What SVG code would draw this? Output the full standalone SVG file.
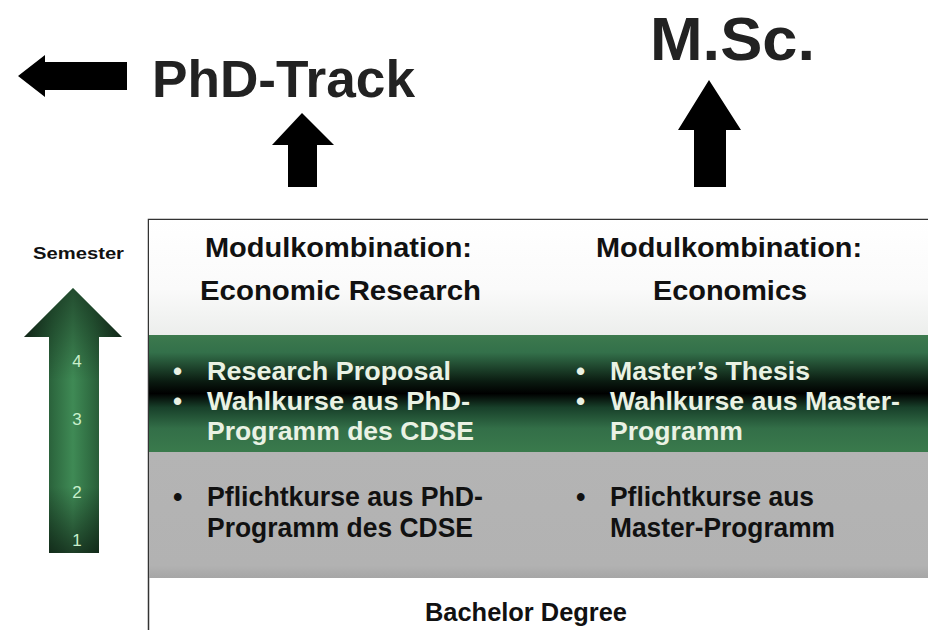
<svg xmlns="http://www.w3.org/2000/svg" width="928" height="630" viewBox="0 0 928 630">
<defs>
<linearGradient id="hdr" x1="0" y1="0" x2="0" y2="1">
<stop offset="0" stop-color="#ffffff"/><stop offset="0.6" stop-color="#fafafa"/><stop offset="1" stop-color="#eceeec"/>
</linearGradient>
<linearGradient id="band" x1="0" y1="0" x2="0" y2="1">
<stop offset="0" stop-color="#3c7a4e"/><stop offset="0.15" stop-color="#33704a"/><stop offset="0.4" stop-color="#0a1a10"/><stop offset="0.5" stop-color="#000000"/><stop offset="0.62" stop-color="#18402a"/><stop offset="0.8" stop-color="#336f48"/><stop offset="1" stop-color="#3a7a4c"/>
</linearGradient>
<linearGradient id="gray" x1="0" y1="0" x2="0" y2="1">
<stop offset="0" stop-color="#b4b4b4"/><stop offset="0.9" stop-color="#b2b2b2"/><stop offset="1" stop-color="#a6a6a6"/>
</linearGradient>
<linearGradient id="sem" x1="0" y1="0" x2="1" y2="0">
<stop offset="0" stop-color="#16301e"/><stop offset="0.3" stop-color="#2e6a40"/><stop offset="0.5" stop-color="#3f8a55"/><stop offset="0.7" stop-color="#2e6a40"/><stop offset="1" stop-color="#16301e"/>
</linearGradient>
<linearGradient id="semv" x1="0" y1="0" x2="0" y2="1">
<stop offset="0" stop-color="#000" stop-opacity="0.45"/><stop offset="0.35" stop-color="#000" stop-opacity="0"/><stop offset="0.75" stop-color="#000" stop-opacity="0"/><stop offset="1" stop-color="#000" stop-opacity="0.55"/>
</linearGradient>
<style>
.t{font-family:"Liberation Sans",Arial,sans-serif;font-weight:bold}
.hd{font-size:28px;fill:#111}
.lt{font-size:26px;fill:#eaf2e4}
.dk{font-size:27px;fill:#111}
.num{font-family:"Liberation Sans",Arial,sans-serif;font-size:17px;fill:#c8f0cc}
.blk{fill:#000}
</style>
</defs>

<g id="phd-track">
<path class="blk" d="M18,76 L45,55 L45,62 L127,62 L127,90 L45,90 L45,97 Z"/>
<text class="t" x="152" y="97" font-size="51" fill="#222" textLength="263" lengthAdjust="spacingAndGlyphs">PhD-Track</text>
</g>
<g id="msc">
<text class="t" x="650" y="60" font-size="62" fill="#222" textLength="165" lengthAdjust="spacingAndGlyphs">M.Sc.</text>
</g>

<g id="connectors">
<path class="blk" d="M302,113 L334,145 L317,145 L317,187 L288,187 L288,145 L272,145 Z"/>
<path class="blk" d="M709,80 L741,130 L726,130 L726,187 L694,187 L694,130 L678,130 Z"/>
</g>

<g id="semester">
<text class="t" x="33" y="259" font-size="17" fill="#111" textLength="91" lengthAdjust="spacingAndGlyphs">Semester</text>
<path d="M73,288 L122,337 L99,337 L99,553 L49,553 L49,337 L24,337 Z" fill="url(#sem)"/>
<path d="M73,288 L122,337 L99,337 L99,553 L49,553 L49,337 L24,337 Z" fill="url(#semv)"/>
<text class="num" x="77" y="367" text-anchor="middle">4</text>
<text class="num" x="77" y="425" text-anchor="middle">3</text>
<text class="num" x="77" y="498" text-anchor="middle">2</text>
<text class="num" x="77" y="546" text-anchor="middle">1</text>
</g>

<g id="table">
<rect x="148.5" y="219.5" width="790" height="420" fill="#fff" stroke="#333" stroke-width="1.5"/>
<rect x="149" y="220" width="779" height="115" fill="url(#hdr)"/>
<rect x="149" y="335" width="779" height="117" fill="url(#band)"/>
<rect x="149" y="452" width="779" height="126" fill="url(#gray)"/>
</g>

<g id="header">
<text class="t hd" x="205" y="257" textLength="267" lengthAdjust="spacingAndGlyphs">Modulkombination:</text>
<text class="t hd" x="200" y="300" textLength="281" lengthAdjust="spacingAndGlyphs">Economic Research</text>
<text class="t hd" x="596" y="257" textLength="266" lengthAdjust="spacingAndGlyphs">Modulkombination:</text>
<text class="t hd" x="653" y="300" textLength="154" lengthAdjust="spacingAndGlyphs">Economics</text>
</g>

<g id="band-green">
<text class="t lt" x="173" y="380">•</text>
<text class="t lt" x="207" y="380" textLength="244" lengthAdjust="spacingAndGlyphs">Research Proposal</text>
<text class="t lt" x="173" y="410">•</text>
<text class="t lt" x="207" y="410" textLength="263" lengthAdjust="spacingAndGlyphs">Wahlkurse aus PhD-</text>
<text class="t lt" x="207" y="440" textLength="267" lengthAdjust="spacingAndGlyphs">Programm des CDSE</text>
<text class="t lt" x="576" y="380">•</text>
<text class="t lt" x="610" y="380" textLength="200" lengthAdjust="spacingAndGlyphs">Master’s Thesis</text>
<text class="t lt" x="576" y="410">•</text>
<text class="t lt" x="610" y="410" textLength="290" lengthAdjust="spacingAndGlyphs">Wahlkurse aus Master-</text>
<text class="t lt" x="610" y="440" textLength="133" lengthAdjust="spacingAndGlyphs">Programm</text>
</g>

<g id="band-gray">
<text class="t dk" x="173" y="506">•</text>
<text class="t dk" x="207" y="506" textLength="276" lengthAdjust="spacingAndGlyphs">Pflichtkurse aus PhD-</text>
<text class="t dk" x="207" y="537" textLength="266" lengthAdjust="spacingAndGlyphs">Programm des CDSE</text>
<text class="t dk" x="576" y="506">•</text>
<text class="t dk" x="610" y="506" textLength="204" lengthAdjust="spacingAndGlyphs">Pflichtkurse aus</text>
<text class="t dk" x="610" y="537" textLength="225" lengthAdjust="spacingAndGlyphs">Master-Programm</text>
</g>

<g id="bachelor">
<text class="t" x="425" y="621" font-size="26" fill="#111" textLength="202" lengthAdjust="spacingAndGlyphs">Bachelor Degree</text>
</g>
</svg>
